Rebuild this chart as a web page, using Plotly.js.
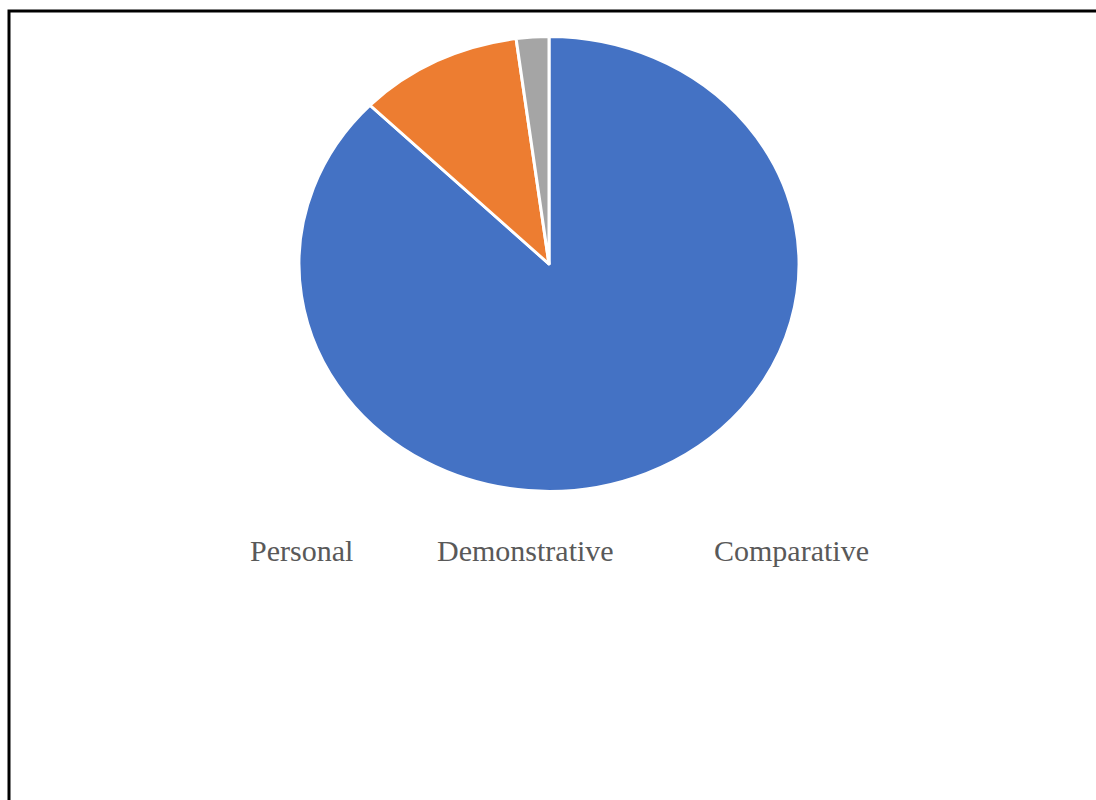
<!DOCTYPE html>
<html>
<head>
<meta charset="utf-8">
<script src="https://cdn.plot.ly/plotly-3.0.1.min.js"></script>
<style>html,body{margin:0;padding:0;background:#fff;}#chart{width:1096px;height:800px;}</style>
</head>
<body>
<div id="chart"></div>
<script>
const categories = ["Personal", "Demonstrative", "Comparative"];
const values = [87.3, 10.6, 2.1];
const colors = ["#4472C4", "#ED7D31", "#A5A5A5"];
const legendX = [301.5, 525.5, 791];

const W = 1096, H = 800;
const cx = 549, cy = 264, rx = 250;
const yScale = 0.909;

const trace = {
  type: "pie",
  labels: categories,
  values: values,
  sort: false,
  direction: "clockwise",
  rotation: 0,
  textinfo: "none",
  hoverinfo: "label+percent",
  marker: { colors: colors, line: { color: "#ffffff", width: 3 } },
  domain: { x: [(cx - rx) / W, (cx + rx) / W], y: [(H - cy - rx) / H, (H - cy + rx) / H] },
  showlegend: false
};

const annotations = categories.map((c, i) => ({
  text: c,
  xref: "paper", yref: "paper",
  x: legendX[i] / W, y: 1 - 550 / H,
  xanchor: "center", yanchor: "middle",
  showarrow: false,
  font: { family: "Liberation Serif, Times New Roman, serif", size: 30, color: "#595959" }
}));

const layout = {
  width: W, height: H,
  margin: { l: 0, r: 0, t: 0, b: 0 },
  paper_bgcolor: "#ffffff",
  showlegend: false,
  annotations: annotations,
  shapes: [{
    type: "rect", xref: "paper", yref: "paper",
    x0: 9 / W, x1: 1.02, y0: 1 - 11 / H, y1: -0.02,
    line: { color: "#000000", width: 3 }
  }]
};

Plotly.newPlot("chart", [trace], layout, { displayModeBar: false, staticPlot: true }).then(() => {
  const g = document.querySelector(".pielayer");
  if (g) {
    g.setAttribute("transform", `translate(0,${cy}) scale(1,${yScale}) translate(0,${-cy})`);
  }
});
</script>
</body>
</html>
